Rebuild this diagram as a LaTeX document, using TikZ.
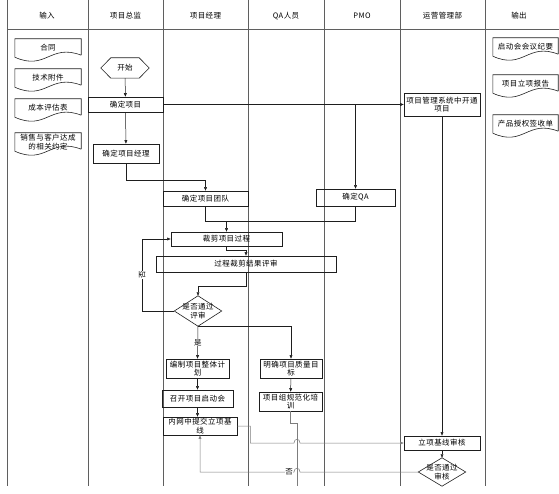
\documentclass[tikz,border=0pt]{standalone}
\usepackage{fontspec}
\setmainfont{Noto Sans CJK SC}[LetterSpace=6]
\usetikzlibrary{arrows.meta,calc}
\definecolor{ink}{RGB}{30,30,30}
\definecolor{lanegray}{RGB}{95,95,95}
\definecolor{wiregray}{RGB}{125,125,125}
\newcommand{\docwave}[1]{\draw[ink,line width=0.6pt] ([yshift=2pt]#1.south east) -- (#1.north east) -- (#1.north west) -- (#1.south west)
  .. controls ([xshift=-2pt,yshift=-14pt]#1.south) and ([xshift=2pt,yshift=14pt]#1.south) .. ([yshift=2pt]#1.south east);}
\newcommand{\hexa}[1]{\draw[ink,line width=0.6pt] (#1.west) -- ([xshift=10pt]#1.north west) -- ([xshift=-10pt]#1.north east) -- (#1.east)
  -- ([xshift=-10pt]#1.south east) -- ([xshift=10pt]#1.south west) -- cycle;}
\newcommand{\diam}[1]{\draw[ink,line width=0.6pt] (#1.north) -- (#1.east) -- (#1.south) -- (#1.west) -- cycle;}

\begin{document}
\begin{tikzpicture}[x=1pt,y=-1pt,font=\fontsize{7.5}{8.5}\selectfont,
  box/.style={draw=ink,line width=0.6pt,align=center,inner sep=1pt},
  doc/.style={align=center,inner sep=1pt,minimum height=18pt},
  flag/.style={align=center,inner sep=0pt},
  arr/.style={draw=ink,line width=0.5pt,-{Triangle[length=3.5pt,width=2.8pt]}},
  wire/.style={arr,draw=wiregray},
  lbl/.style={fill=white,inner sep=0.5pt}]
  \useasboundingbox (0,0) rectangle (559,494);
  \foreach \x in {7,88,163,248,324,400,485}
    \draw[lanegray,line width=0.7pt] (\x,0) -- (\x,486);
  \draw[lanegray,line width=0.7pt] (7,29) -- (559,29);
  \foreach \t/\x [count=\i] in {输入/47,项目总监/125.5,项目经理/205.5,QA人员/286,PMO/362,运营管理部/442.5,输出/519}
    \node (h\i) at (\x,16) {\t};

  \foreach \t/\y [count=\i] in {合同/48,技术附件/78,成本评估表/108,销售与客户达成\\的相关约定/142}
    {\node[doc,minimum width=66pt] (in\i) at (48,\y) {\t}; \docwave{in\i}}
  \foreach \t/\y [count=\i] in {启动会会议纪要/47,项目立项报告/84,产品授权签收单/124}
    {\node[doc,minimum width=65pt] (out\i) at (525.5,\y) {\t}; \docwave{out\i}}

  \node[flag,minimum width=48pt,minimum height=20pt] (start) at (125,68) {开始}; \hexa{start}
  \node[box,minimum width=75pt,minimum height=15pt] (pd) at (125.5,104.5) {确定项目};
  \node[box,minimum width=66pt,minimum height=19pt] (pm) at (126,153.5) {确定项目经理};
  \node[box,minimum width=76pt,minimum height=23pt] (sys) at (442,104.5) {项目管理系统中开通\\项目};
  \node[box,minimum width=85pt,minimum height=15pt] (team) at (205.5,198.5) {确定项目团队};
  \node[box,minimum width=79pt,minimum height=17pt] (qa) at (355.5,197.5) {确定QA};
  \node[box,minimum width=111pt,minimum height=14pt] (tailor) at (226.5,239) {裁剪项目过程};
  \node[box,minimum width=180pt,minimum height=16pt] (review) at (246,264) {过程裁剪结果评审};
  \node[flag,minimum width=47pt,minimum height=30pt] (dia1) at (198,311) {是否通过\\评审}; \diam{dia1}
  \node[box,minimum width=63pt,minimum height=19pt] (plan) at (197.5,368.5) {编制项目整体计\\划};
  \node[box,minimum width=71pt,minimum height=17pt] (kick) at (197.5,398.5) {召开项目启动会};
  \node[box,minimum width=74pt,minimum height=18pt] (base) at (200,426) {内网中提交立项基\\线};
  \node[box,minimum width=62pt,minimum height=19pt] (qual) at (291,368.5) {明确项目质量目\\标};
  \node[box,minimum width=63pt,minimum height=19pt] (train) at (290.5,401.5) {项目组规范化培\\训};
  \node[box,minimum width=76pt,minimum height=14pt] (audit) at (442,443) {立项基线审核};
  \node[flag,minimum width=47pt,minimum height=28pt] (dia2) at (442,472) {是否通过\\审核}; \diam{dia2}
  \coordinate (cut) at (297,486);

  \draw[arr] (start) -- (pd);
  \draw[arr] (pd) -- (pm);
  \draw[arr] (pd.east) -- (sys.west);
  \draw[arr] (pd.east -| qa.north) -- (qa.north);
  \draw[arr] (pm.south) -- ++(0,17) -| (team.north);
  \draw[ink,line width=0.5pt] (team.south) -- ++(0,15) coordinate (j1) -| (qa.south);
  \draw[arr] (j1 -| tailor.north) -- (tailor.north);
  \draw[arr] (tailor.south) -- ++(0,4) -| (review.north);
  \draw[arr] (review.south) -- ++(0,14) -| (dia1.north);
  \draw[arr] (dia1.west) -- ++(-32,0) coordinate (j2) |- (tailor.west);
  \node[lbl,rotate=90] (no1) at ($(j2)!0.5!(j2 |- tailor.west)$) {否};
  \draw[arr] (dia1.south) -- node[lbl] (yes1) {是} (plan.north);
  \draw[arr] (dia1.south) -| (qual.north);
  \draw[arr] (plan) -- (kick);
  \draw[arr] (kick.south) -- (kick.south |- base.north);
  \draw[arr] (qual) -- (train);
  \draw[wire,-] (train.south) -- ++(0,12) -| (cut);
  \draw[arr] (sys) -- (audit);
  \draw[arr] (audit) -- (dia2);
  \coordinate (hop1) at (cut |- audit.west);
  \draw[wire] (base.east) -- ++(13,0) |- ([xshift=-3pt]hop1) .. controls ([xshift=-3pt,yshift=5pt]hop1) and ([xshift=3pt,yshift=5pt]hop1) .. ([xshift=3pt]hop1) -- (audit.west);
  \coordinate (hop2) at (cut |- dia2.west);
  \draw[wire] (dia2.west) -- ([xshift=3pt]hop2) .. controls ([xshift=3pt,yshift=5pt]hop2) and ([xshift=-3pt,yshift=5pt]hop2) .. ([xshift=-3pt]hop2) -| (base.south);
  \node[lbl] (no2) at ([xshift=-8pt]hop2) {否};
\end{tikzpicture}
\end{document}
